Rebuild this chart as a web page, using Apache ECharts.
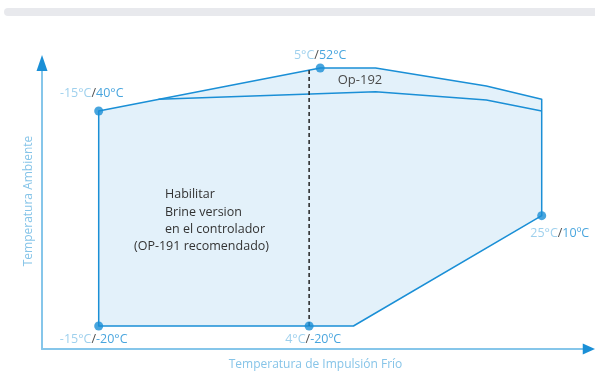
<!DOCTYPE html>
<html><head><meta charset="utf-8">
<script src="https://cdn.jsdelivr.net/npm/echarts@6/dist/echarts.min.js"></script>
<style>html,body{margin:0;padding:0;background:#fff}#c{width:595px;height:372px}</style>
</head><body><div id="c"></div>
<script>
// Operating envelope (x = temperatura de impulsión frío °C, y = temperatura ambiente °C)
const envelopeX = [-15, 5, 10, 20, 25, 25, 8, 4, -15];
const envelopeY = [40, 52, 52, 47, 43.3, 10.8, -20, -20, -20];
// Op-192 boundary line
const op192X = [-9.6, 10, 20, 25];
const op192Y = [43.3, 45.4, 43.1, 40];
// Dashed divider at 4 °C
const dividerX = [4, 4];
const dividerY = [-20, 51.4];
// Corner points and their labels
const pointX = [-15, 5, 25, -15, 4];
const pointY = [40, 52, 10.8, -20, -20];
const pointWaterLabels = ['-15°C', '5°C', '25°C', '-15°C', '4°C'];
const pointAirLabels = ['40°C', '52°C', '10ºC', '-20°C', '-20ºC'];
const xAxisName = 'Temperatura de Impulsión Frío';
const yAxisName = 'Temperatura Ambiente';
const op192Text = 'Op-192';
const noteLines = ['Habilitar', 'Brine version', 'en el controlador', '(OP-191 recomendado)'];

// styling (label offsets in px)
const labelOffsets = [[-7, -18], [0, -13], [18, 18], [-5, 13], [4, 13]];
const FONT = '"Open Sans", "Noto Sans", sans-serif';
const BLUE = '#1a8fd6', LIGHT = '#86c6ea', FILL = '#e3f1fa';

const chart = echarts.init(document.getElementById('c'), null, {renderer: 'canvas'});
const baseAxis = {
  type: 'value', splitLine: {show: false}, axisTick: {show: false}, axisLabel: {show: false}
};
const option = {
  animation: false,
  grid: {left: 42, right: 6, top: 63, bottom: 23, containLabel: false, outerBoundsMode: 'none'},
  xAxis: [
    Object.assign({}, baseAxis, {
      min: -20.12, max: 29.27, position: 'bottom',
      axisLine: {show: true, onZero: false, lineStyle: {color: LIGHT, width: 2}},
      name: xAxisName, nameLocation: 'middle', nameGap: 10,
      nameTextStyle: {color: '#86c4e8', fontSize: 12, fontFamily: FONT}
    }),
    Object.assign({}, baseAxis, {
      min: -20.12, max: 29.27, position: 'bottom',
      axisLine: {show: true, onZero: false, symbol: ['none', 'triangle'], symbolSize: [11, 12.5], lineStyle: {color: BLUE, width: 0}}
    })
  ],
  yAxis: [
    Object.assign({}, baseAxis, {
      min: -26.42, max: 53.4, position: 'left',
      axisLine: {show: true, onZero: false, lineStyle: {color: LIGHT, width: 2}}
    }),
    Object.assign({}, baseAxis, {
      min: -26.42, max: 53.4, position: 'left',
      axisLine: {show: true, onZero: false, symbol: ['none', 'triangle'], symbolSize: [11, 16], lineStyle: {color: BLUE, width: 0}}
    })
  ],
  graphic: [
    {type: 'rect', x: 4, y: 8, shape: {width: 620, height: 8, r: 4}, style: {fill: '#e8e9ed'}, silent: true},
    {type: 'text', x: 29, y: 201, rotation: Math.PI / 2,
      style: {text: yAxisName, fill: '#86c4e8', font: '12px ' + FONT, align: 'center', verticalAlign: 'middle'}},
    {type: 'text', x: 360, y: 80, z: 10,
      style: {text: op192Text, fill: '#4a4a4a', font: '13px ' + FONT, align: 'center', verticalAlign: 'middle'}},
    {type: 'text', x: 165, y: 194, z: 10, style: {text: noteLines[0], fill: '#333', font: '12.5px ' + FONT, verticalAlign: 'middle'}},
    {type: 'text', x: 165, y: 212, z: 10, style: {text: noteLines[1], fill: '#333', font: '12.5px ' + FONT, verticalAlign: 'middle'}},
    {type: 'text', x: 165, y: 229.5, z: 10, style: {text: noteLines[2], fill: '#333', font: '12.5px ' + FONT, verticalAlign: 'middle'}},
    {type: 'text', x: 134, y: 246.5, z: 10, style: {text: noteLines[3], fill: '#333', font: '12.5px ' + FONT, verticalAlign: 'middle'}}
  ],
  series: [
    {
      type: 'custom', xAxisIndex: 0, yAxisIndex: 0, z: 1,
      data: [[envelopeX[0], envelopeY[0]]],
      renderItem: function (params, api) {
        const pts = envelopeX.map((x, i) => api.coord([x, envelopeY[i]]));
        return {type: 'polygon', shape: {points: pts},
          style: {fill: FILL, stroke: BLUE, lineWidth: 1.5, lineJoin: 'round'}};
      }
    },
    {
      type: 'line', xAxisIndex: 0, yAxisIndex: 0, z: 2,
      data: op192X.map((x, i) => [x, op192Y[i]]),
      symbol: 'none', lineStyle: {color: BLUE, width: 1.5}
    },
    {
      type: 'line', xAxisIndex: 0, yAxisIndex: 0, z: 3,
      data: dividerX.map((x, i) => [x, dividerY[i]]),
      symbol: 'none', lineStyle: {color: '#222', width: 1.5, type: [4, 3]}
    },
    {
      type: 'scatter', xAxisIndex: 0, yAxisIndex: 0, z: 5,
      symbol: 'circle', symbolSize: 9,
      itemStyle: {color: BLUE},
      data: pointX.map((x, i) => ({
        value: [x, pointY[i]],
        label: {
          show: true, position: 'inside', offset: labelOffsets[i],
          formatter: '{a|' + pointWaterLabels[i] + '}{s|/}{b|' + pointAirLabels[i] + '}',
          rich: {
            a: {color: '#86c4e8', fontSize: 12.5, fontFamily: FONT},
            s: {color: '#222', fontSize: 12.5, fontFamily: FONT},
            b: {color: BLUE, fontSize: 12.5, fontFamily: FONT}
          }
        }
      }))
    }
  ]
};
chart.setOption(option);
</script></body></html>
